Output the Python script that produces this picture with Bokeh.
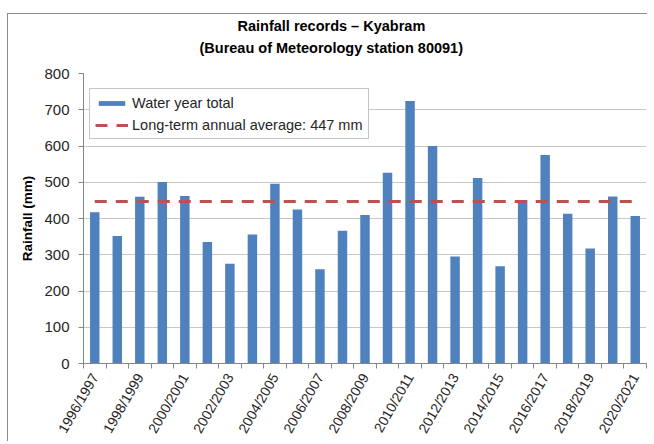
import math
from bokeh.plotting import figure
from bokeh.models import FixedTicker, Legend, LegendItem, Range1d, Title
from bokeh.embed import file_html
from bokeh.resources import INLINE

seasons = ["1996/1997", "1997/1998", "1998/1999", "1999/2000", "2000/2001",
           "2001/2002", "2002/2003", "2003/2004", "2004/2005", "2005/2006",
           "2006/2007", "2007/2008", "2008/2009", "2009/2010", "2010/2011",
           "2011/2012", "2012/2013", "2013/2014", "2014/2015", "2015/2016",
           "2016/2017", "2017/2018", "2018/2019", "2019/2020", "2020/2021"]
rainfall = [417, 352, 460, 501, 462, 335, 275, 356, 496, 425, 260, 366, 410,
            526, 724, 600, 295, 512, 268, 451, 575, 413, 317, 461, 407]
long_term_avg = 447
y_ticks = [0, 100, 200, 300, 400, 500, 600, 700, 800]
title_line1 = "Rainfall records \u2013 Kyabram"
title_line2 = "(Bureau of Meteorology station 80091)"

FONT = "Liberation Sans"
xs = list(range(len(seasons)))

p = figure(width=640, height=428, output_backend="svg", toolbar_location=None,
           x_range=Range1d(-0.5, len(seasons) - 0.5), y_range=Range1d(y_ticks[0], y_ticks[-1]),
           min_border_left=75, min_border_right=2, min_border_top=59, min_border_bottom=79)
p.styles = {"margin-left": "7px", "margin-top": "13px",
            "border-left": "1px solid #8c8c8c", "border-top": "1px solid #8c8c8c"}
p.outline_line_color = None
p.background_fill_color = "white"
p.border_fill_color = "white"

bars = p.vbar(x=xs, top=rainfall, width=0.42, fill_color="#4f81bd", line_color=None)
avg = p.line(x=[xs[0], xs[-1]], y=[long_term_avg, long_term_avg], line_color="#c0504d",
             line_width=3, line_dash="12 9")

p.xgrid.grid_line_color = None
p.ygrid.grid_line_color = "#c8c8c8"
p.ygrid.grid_line_width = 1

p.xaxis.ticker = FixedTicker(ticks=xs[::2], minor_ticks=[i - 0.5 for i in range(len(seasons) + 1)])
p.xaxis.major_label_overrides = {i: seasons[i] for i in xs[::2]}
p.xaxis.major_tick_out = 0
p.xaxis.major_tick_in = 0
p.xaxis.minor_tick_out = 5
p.xaxis.minor_tick_in = 0
p.xaxis.major_label_orientation = math.pi / 3
p.xaxis.major_label_standoff = 6
p.xaxis.major_label_text_font_size = "14px"

p.yaxis.ticker = FixedTicker(ticks=y_ticks)
p.yaxis.major_tick_out = 5
p.yaxis.major_tick_in = 0
p.yaxis.minor_tick_out = 0
p.yaxis.minor_tick_in = 0
p.yaxis.major_label_standoff = 9
p.yaxis.major_label_text_font_size = "15px"
p.yaxis.axis_label = "Rainfall (mm)"
p.yaxis.axis_label_text_font_style = "bold"
p.yaxis.axis_label_text_font_size = "13.5px"
p.yaxis.axis_label_text_font = FONT
p.yaxis.axis_label_text_color = "#000000"
p.yaxis.axis_label_standoff = 6

for ax in (p.xaxis, p.yaxis):
    ax.axis_line_color = "#868686"
    ax.major_tick_line_color = "#868686"
    ax.minor_tick_line_color = "#868686"
    ax.major_label_text_font = FONT
    ax.major_label_text_color = "#262626"

legend = Legend(items=[LegendItem(label="Water year total", renderers=[bars]),
                       LegendItem(label="Long-term annual average: %d mm" % long_term_avg, renderers=[avg])],
                location=(6, 224), border_line_color="#8c8c8c", background_fill_color="white",
                background_fill_alpha=1.0, padding=5, spacing=5, margin=0,
                glyph_width=33, glyph_height=6, label_height=17, label_standoff=4,
                label_text_font=FONT, label_text_font_size="14.5px", label_text_color="#262626")
p.add_layout(legend)

# title: second line added first (closest to the plot), then the first line
t2 = Title(text=title_line2, align="left", offset=116, standoff=0,
           padding=dict(left=0, right=0, top=0, bottom=18), text_font=FONT,
           text_font_style="bold", text_font_size="14.5px", text_color="#000000")
t1 = Title(text=title_line1, align="left", offset=154, standoff=0,
           padding=dict(left=0, right=0, top=0, bottom=4), text_font=FONT,
           text_font_style="bold", text_font_size="14.5px", text_color="#000000")
p.title.visible = False
p.add_layout(t2, "above")
p.add_layout(t1, "above")

open("out.html", "w").write(file_html(p, INLINE))
